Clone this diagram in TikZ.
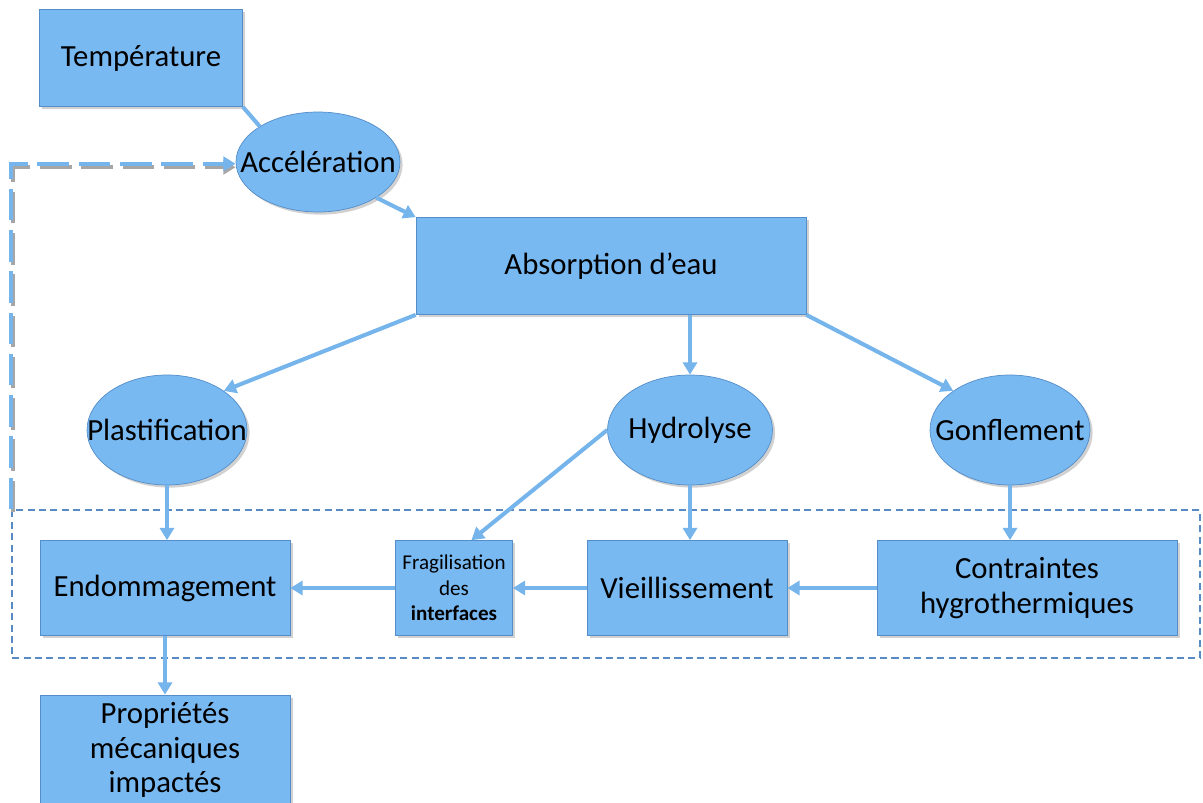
\documentclass[tikz,border=0pt]{standalone}
\usepackage{fontspec}
\setmainfont{Carlito}
\usetikzlibrary{shapes.geometric,arrows.meta,positioning,shadows,calc}
\definecolor{bleuboite}{RGB}{121,185,242}
\definecolor{bleubord}{RGB}{84,141,200}
\definecolor{bleufleche}{RGB}{118,180,236}
\definecolor{bleucadre}{RGB}{88,138,196}
\newcommand{\plat}[1]{\makebox[0pt]{#1}}

\begin{document}
\begin{tikzpicture}
[x=0.02cm, y=-0.02cm,
 ombre/.style={drop shadow={shadow xshift=1.5pt, shadow yshift=-1.5pt, opacity=0.3, fill=black!60}},
 boite/.style={draw=bleubord, thin, fill=bleuboite, ombre, align=center, inner sep=0pt,
   font=\fontsize{17.5}{19.5}\selectfont},
 bulle/.style={boite, ellipse},
 fleche/.style={draw=bleufleche, line width=2.3pt, -{Triangle[length=7pt, width=8pt]}},
 lien/.style={draw=bleufleche, line width=2.3pt},
 cadre/.style={draw=bleucadre, line width=0.8pt, dash pattern=on 4pt off 2.5pt},
 retour/.style={line width=2.3pt, dash pattern=on 18pt off 5.5pt}
]
\useasboundingbox (0,0) rectangle (1203,803);

% zone en pointilles
\node[cadre, minimum width=23.76cm, minimum height=2.96cm, inner sep=0pt] (zone) at (606,584) {};

\node[boite, minimum width=4.06cm, minimum height=1.94cm] (temp) at (141,58) {Température};
\node[bulle, minimum width=3.28cm, minimum height=2.0cm] (accel) at (318,162) {\plat{Accélération}};
\node[boite, minimum width=7.8cm, minimum height=1.94cm] (abs) at (611,266) {Absorption d’eau};

\node[bulle, minimum width=3.2cm, minimum height=2.2cm] (plast) at (167,430) {\plat{Plastification}};
\node[bulle, minimum width=3.3cm, minimum height=2.2cm] (hydro) at (690,430) {\plat{Hydrolyse}};
\node[bulle, minimum width=3.2cm, minimum height=2.2cm] (gonfl) at (1010,430) {\plat{Gonflement}};

\node[boite, minimum width=5.0cm, minimum height=1.9cm] (endo) at (165,588) {Endommagement};
\node[boite, minimum width=2.34cm, minimum height=1.9cm, font=\fontsize{12}{14.5}\selectfont] (frag) at (454,588) {Fragilisation\\des\\\textbf{interfaces}};
\node[boite, minimum width=4.0cm, minimum height=1.9cm] (vieil) at (687,588) {Vieillissement};
\node[boite, minimum width=6.0cm, minimum height=1.9cm] (contr) at (1027,588) {Contraintes\\hygrothermiques};
\node[boite, minimum width=5.0cm, minimum height=2.2cm] (prop) at (165,750) {Propriétés\\mécaniques\\impactés};

% retour vers acceleration
\draw[retour, draw=black!35, -{Triangle[length=7pt, width=8pt]}] ([shift={(2,3)}]zone.north west) |- ([yshift=-3pt]accel.west);
\draw[retour, draw=bleufleche, -{Triangle[length=7pt, width=8pt]}] (zone.north west) |- ([yshift=-1pt]accel.west);

\draw[lien] (temp.south east) -- (accel.north west);
\draw[fleche] (accel.south east) -- (abs.north west);
\draw[fleche] (abs.south west) -- (plast.north east);
\draw[fleche] (abs.south east) -- (gonfl.north west);
\draw[fleche] (hydro.north |- abs.south) -- (hydro.north);

\draw[fleche] (plast.south) -- (plast.south |- endo.north);
\draw[fleche] (hydro.south) -- (hydro.south |- vieil.north);
\draw[fleche] (gonfl.south) -- (gonfl.south |- contr.north);
\draw[fleche] (hydro.west) -- (frag.70);

\foreach \a/\b in {contr/vieil, vieil/frag, frag/endo}{
  \draw[fleche] (\a.west) -- (\b.east);
}
\draw[fleche] (endo.south) -- (prop.north);
\end{tikzpicture}
\end{document}
